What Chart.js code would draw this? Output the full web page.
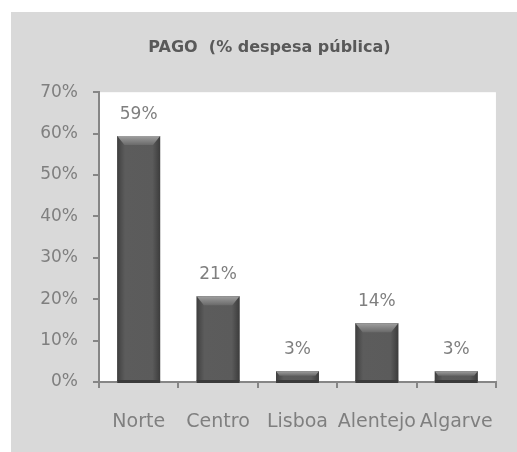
<!DOCTYPE html>
<html>
<head>
<meta charset="utf-8">
<script src="https://cdn.jsdelivr.net/npm/chart.js@4"></script>
<style>
  html, body { margin: 0; padding: 0; background: #fff; }
</style>
</head>
<body>
<canvas id="pago-chart" width="517" height="452"></canvas>
<script>
// dados
const regioes = ['Norte', 'Centro', 'Lisboa', 'Alentejo', 'Algarve'];
const pago = [59.4, 20.7, 2.6, 14.2, 2.6];
const pagoLabels = ['59%', '21%', '3%', '14%', '3%'];
const yTicks = [0, 10, 20, 30, 40, 50, 60, 70];

const axisGray = '#868686';
const textGray = '#7f7f7f';
const font = 'DejaVu Sans';

// fundo cinzento + área do gráfico branca
const backgroundPlugin = {
  id: 'background',
  beforeDraw(chart) {
    const { ctx, chartArea } = chart;
    ctx.save();
    ctx.fillStyle = '#ffffff';
    ctx.fillRect(0, 0, chart.width, chart.height);
    ctx.fillStyle = '#d9d9d9';
    ctx.fillRect(11, 12, chart.width - 11, chart.height - 12);
    ctx.fillStyle = '#ffffff';
    ctx.fillRect(chartArea.left + 1, chartArea.top, chartArea.right - chartArea.left - 1, chartArea.bottom - chartArea.top);
    ctx.restore();
  }
};

// barras com efeito de relevo
const bevelPlugin = {
  id: 'bevel',
  afterDatasetsDraw(chart) {
    const { ctx } = chart;
    const meta = chart.getDatasetMeta(0);
    ctx.save();
    meta.data.forEach(bar => {
      const { x, y, base, width } = bar.getProps(['x', 'y', 'base', 'width'], true);
      const left = x - width / 2, right = x + width / 2, h = base - y;
      const g = ctx.createLinearGradient(left, 0, right, 0);
      g.addColorStop(0, '#3e3e3e');
      g.addColorStop(0.08, '#4d4d4d');
      g.addColorStop(0.18, '#5c5c5c');
      g.addColorStop(0.82, '#5b5b5b');
      g.addColorStop(0.92, '#4a4a4a');
      g.addColorStop(1, '#3c3c3c');
      ctx.fillStyle = g;
      ctx.fillRect(left, y, width, h);

      const bev = Math.min(9, h * 0.45);
      const vg = ctx.createLinearGradient(0, y, 0, y + bev);
      vg.addColorStop(0, '#a0a0a0');
      vg.addColorStop(0.35, '#8c8c8c');
      vg.addColorStop(1, '#6a6a6a');
      ctx.fillStyle = vg;
      ctx.beginPath();
      ctx.moveTo(left, y);
      ctx.lineTo(right, y);
      ctx.lineTo(right - bev * 0.8, y + bev);
      ctx.lineTo(left + bev * 0.8, y + bev);
      ctx.closePath();
      ctx.fill();

      ctx.fillStyle = '#3a3a3a';
      ctx.fillRect(left, base - 1, width, 3);
    });
    ctx.restore();
  }
};

// rótulos de valor por cima das barras
const valueLabelPlugin = {
  id: 'valueLabels',
  afterDatasetsDraw(chart) {
    const { ctx } = chart;
    const meta = chart.getDatasetMeta(0);
    ctx.save();
    ctx.font = '17px "' + font + '"';
    ctx.fillStyle = textGray;
    ctx.textAlign = 'center';
    ctx.textBaseline = 'alphabetic';
    meta.data.forEach((bar, i) => {
      ctx.fillText(pagoLabels[i], bar.x, bar.y - 17);
    });
    ctx.restore();
  }
};

new Chart(document.getElementById('pago-chart'), {
  type: 'bar',
  data: {
    labels: regioes,
    datasets: [{
      label: 'PAGO',
      data: pago,
      backgroundColor: '#595959',
      borderWidth: 0,
      categoryPercentage: 1,
      barPercentage: 0.54
    }]
  },
  options: {
    responsive: false,
    animation: false,
    devicePixelRatio: 1,
    layout: { padding: { left: 36, right: 14, top: 0, bottom: 0 } },
    scales: {
      x: {
        grid: { drawOnChartArea: false, tickLength: 6, color: axisGray, lineWidth: 2, offset: true },
        border: { color: axisGray, width: 2 },
        ticks: { font: { family: font, size: 19 }, color: textGray, padding: 23, maxRotation: 0, autoSkip: false },
        afterFit: s => { s.height = 70; }
      },
      y: {
        min: yTicks[0],
        max: yTicks[yTicks.length - 1],
        afterBuildTicks: s => { s.ticks = yTicks.map(v => ({ value: v })); },
        grid: { drawOnChartArea: false, tickLength: 6, color: axisGray, lineWidth: 2 },
        border: { color: axisGray, width: 2 },
        ticks: { font: { family: font, size: 17 }, color: textGray, padding: 15, callback: v => v + '%' },
        afterFit: s => { s.width = 63; }
      }
    },
    plugins: {
      legend: { display: false },
      tooltip: { enabled: false },
      title: {
        display: true,
        text: 'PAGO  (% despesa pública)',
        color: '#595959',
        font: { family: font, size: 16, weight: 'bold' },
        padding: { top: 38, bottom: 35 }
      }
    }
  },
  plugins: [backgroundPlugin, bevelPlugin, valueLabelPlugin]
});
</script>
</body>
</html>
